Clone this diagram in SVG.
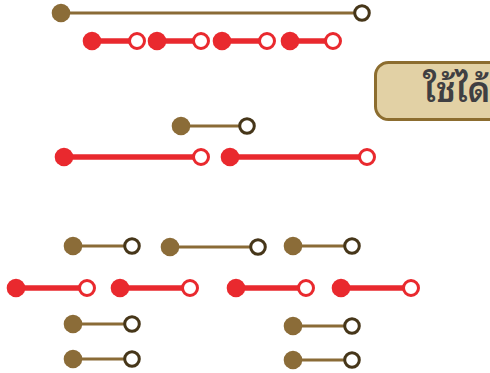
<svg xmlns="http://www.w3.org/2000/svg" width="490" height="373" viewBox="0 0 490 373">
<style>
.bl{stroke:#8a6b36;stroke-width:3;fill:none}
.bf{fill:#8b6c38}
.bo{fill:#fff;stroke:#463619;stroke-width:3}
.rl{stroke:#e9292e;stroke-width:5.5;fill:none}
.rf{fill:#e9292e}
.ro{fill:#fff;stroke:#e9292e;stroke-width:3}
.lbl{font-family:"Noto Sans Thai Looped","Loma","Garuda","Noto Sans Thai","Noto Sans","DejaVu Sans",sans-serif;font-size:34px;font-weight:600;fill:#3f3f42}
</style>
<g id="connectors">
<line class="bl" x1="61" y1="13" x2="362" y2="13"/>
<line class="rl" x1="92" y1="41" x2="137" y2="41"/>
<line class="rl" x1="157" y1="41" x2="201" y2="41"/>
<line class="rl" x1="222" y1="41" x2="267" y2="41"/>
<line class="rl" x1="290" y1="41" x2="333" y2="41"/>
<line class="bl" x1="181" y1="126" x2="247" y2="126"/>
<line class="rl" x1="64" y1="157" x2="201" y2="157"/>
<line class="rl" x1="230" y1="157" x2="367" y2="157"/>
<line class="bl" x1="73" y1="246" x2="132" y2="246"/>
<line class="bl" x1="170" y1="247" x2="258" y2="247"/>
<line class="bl" x1="293" y1="246" x2="352" y2="246"/>
<line class="rl" x1="16" y1="288" x2="87" y2="288"/>
<line class="rl" x1="120" y1="288" x2="190" y2="288"/>
<line class="rl" x1="236" y1="288" x2="306" y2="288"/>
<line class="rl" x1="341" y1="288" x2="411" y2="288"/>
<line class="bl" x1="73" y1="324" x2="132" y2="324"/>
<line class="bl" x1="293" y1="326" x2="352" y2="326"/>
<line class="bl" x1="73" y1="359" x2="132" y2="359"/>
<line class="bl" x1="293" y1="360" x2="352" y2="360"/>
</g>
<g id="n1"><circle class="bf" cx="61" cy="13" r="9.3"/><circle class="bo" cx="362" cy="13" r="7.3"/></g>
<g id="n2"><circle class="rf" cx="92" cy="41" r="9.3"/><circle class="ro" cx="137" cy="41" r="7.5"/></g>
<g id="n3"><circle class="rf" cx="157" cy="41" r="9.3"/><circle class="ro" cx="201" cy="41" r="7.5"/></g>
<g id="n4"><circle class="rf" cx="222" cy="41" r="9.3"/><circle class="ro" cx="267" cy="41" r="7.5"/></g>
<g id="n5"><circle class="rf" cx="290" cy="41" r="9.3"/><circle class="ro" cx="333" cy="41" r="7.5"/></g>
<g id="label">
<rect x="375.5" y="62.5" width="130" height="57" rx="13" fill="#e2d1a5" stroke="#8c6d2f" stroke-width="3"/>
<text class="lbl" x="423" y="102">ใช้ได้</text>
</g>
<g id="n6"><circle class="bf" cx="181" cy="126" r="9.3"/><circle class="bo" cx="247" cy="126" r="7.3"/></g>
<g id="n7"><circle class="rf" cx="64" cy="157" r="9.3"/><circle class="ro" cx="201" cy="157" r="7.5"/></g>
<g id="n8"><circle class="rf" cx="230" cy="157" r="9.3"/><circle class="ro" cx="367" cy="157" r="7.5"/></g>
<g id="n9"><circle class="bf" cx="73" cy="246" r="9.3"/><circle class="bo" cx="132" cy="246" r="7.3"/></g>
<g id="n10"><circle class="bf" cx="170" cy="247" r="9.3"/><circle class="bo" cx="258" cy="247" r="7.3"/></g>
<g id="n11"><circle class="bf" cx="293" cy="246" r="9.3"/><circle class="bo" cx="352" cy="246" r="7.3"/></g>
<g id="n12"><circle class="rf" cx="16" cy="288" r="9.3"/><circle class="ro" cx="87" cy="288" r="7.5"/></g>
<g id="n13"><circle class="rf" cx="120" cy="288" r="9.3"/><circle class="ro" cx="190" cy="288" r="7.5"/></g>
<g id="n14"><circle class="rf" cx="236" cy="288" r="9.3"/><circle class="ro" cx="306" cy="288" r="7.5"/></g>
<g id="n15"><circle class="rf" cx="341" cy="288" r="9.3"/><circle class="ro" cx="411" cy="288" r="7.5"/></g>
<g id="n16"><circle class="bf" cx="73" cy="324" r="9.3"/><circle class="bo" cx="132" cy="324" r="7.3"/></g>
<g id="n17"><circle class="bf" cx="293" cy="326" r="9.3"/><circle class="bo" cx="352" cy="326" r="7.3"/></g>
<g id="n18"><circle class="bf" cx="73" cy="359" r="9.3"/><circle class="bo" cx="132" cy="359" r="7.3"/></g>
<g id="n19"><circle class="bf" cx="293" cy="360" r="9.3"/><circle class="bo" cx="352" cy="360" r="7.3"/></g>
</svg>
